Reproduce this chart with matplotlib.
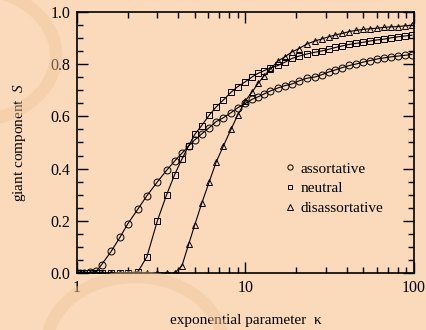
import matplotlib
matplotlib.use("Agg")
import matplotlib.pyplot as plt
from matplotlib.patches import Circle
from matplotlib.ticker import FixedLocator, NullFormatter, MultipleLocator

# exponential parameter kappa
kappa = [1.0, 1.04, 1.1, 1.2, 1.3, 1.4, 1.6, 1.8, 2.0, 2.3, 2.6, 3.0, 3.4, 3.8,
         4.2, 4.6, 5.0, 5.5, 6.1, 6.7, 7.4, 8.2, 9.0, 10.0, 11.0, 11.9, 12.9,
         14.0, 15.6, 17.2, 18.9, 20.8, 23.1, 25.9, 28.5, 31.2, 34.2, 37.6,
         41.4, 45.6, 50.1, 55.1, 60.6, 66.5, 73.1, 80.4, 88.4, 97.3]

# giant component S
assortative = [0.0, 0.0, 0.001, 0.002, 0.006, 0.032, 0.084, 0.137, 0.188, 0.245,
               0.296, 0.349, 0.393, 0.429, 0.459, 0.487, 0.510, 0.533, 0.557,
               0.580, 0.595, 0.614, 0.633, 0.650, 0.666, 0.675, 0.686, 0.697,
               0.709, 0.718, 0.724, 0.736, 0.746, 0.751, 0.760, 0.770, 0.778,
               0.787, 0.795, 0.801, 0.808, 0.814, 0.820, 0.824, 0.828, 0.831,
               0.834, 0.837]
neutral = [0.0, 0.0, 0.0, 0.0, 0.0, 0.0, 0.0, 0.0, 0.0, 0.005, 0.062, 0.200,
           0.299, 0.377, 0.437, 0.487, 0.531, 0.565, 0.605, 0.636, 0.663, 0.692,
           0.714, 0.733, 0.752, 0.765, 0.775, 0.785, 0.795, 0.808, 0.822, 0.831,
           0.839, 0.846, 0.851, 0.857, 0.864, 0.870, 0.876, 0.880, 0.884, 0.889,
           0.893, 0.896, 0.901, 0.905, 0.908, 0.911]
disassortative = [0.0, 0.0, 0.0, 0.0, 0.0, 0.0, 0.0, 0.0, 0.0, 0.0, 0.0, 0.0,
                  0.0, 0.0, 0.028, 0.110, 0.184, 0.267, 0.350, 0.425, 0.487,
                  0.550, 0.605, 0.660, 0.695, 0.727, 0.755, 0.780, 0.812, 0.829,
                  0.847, 0.860, 0.877, 0.889, 0.897, 0.905, 0.912, 0.918, 0.925,
                  0.930, 0.933, 0.936, 0.938, 0.941, 0.943, 0.944, 0.947, 0.949]

labels = ["assortative", "neutral", "disassortative"]
markers = ["o", "s", "^"]

plt.rcParams["font.family"] = ["Liberation Serif", "DejaVu Serif"]
plt.rcParams["mathtext.fontset"] = "custom"
plt.rcParams["mathtext.it"] = "Liberation Serif:italic"
plt.rcParams["mathtext.rm"] = "Liberation Serif"

bg = "#fadabb"
fig = plt.figure(figsize=(4.27, 3.30), dpi=100, facecolor=bg)

# coffee stain rings behind everything
for cx, cy, r in [(-30, 55, 86), (135, 345, 88)]:
    fig.patches.append(Circle((cx / 427, 1 - cy / 330), r / 427, transform=fig.transFigure,
                              fill=False, lw=9, ec="#efc59c", alpha=0.45, zorder=0))

ax = fig.add_axes([0.1803, 0.1727, 0.789, 0.791])
ax.patch.set_alpha(0)

for ys, m, lab in zip([assortative, neutral, disassortative], markers, labels):
    ax.plot(kappa, ys, "-", color="black", lw=0.8, zorder=2)
    ax.plot(kappa, ys, ls="none", marker=m, ms=5 if m != "s" else 4.5,
            mfc="none", mec="black", mew=0.7, label=lab, zorder=3)

ax.set_xscale("log")
ax.set_xlim(1, 100)
ax.set_ylim(0, 1)
ax.xaxis.set_major_locator(FixedLocator([1, 10, 100]))
ax.set_xticklabels(["1", "10", "100"])
ax.xaxis.set_minor_locator(FixedLocator([2, 3, 4, 5, 6, 7, 8, 9,
                                         20, 30, 40, 50, 60, 70, 80, 90]))
ax.xaxis.set_minor_formatter(NullFormatter())
ax.yaxis.set_major_locator(MultipleLocator(0.2))
ax.yaxis.set_minor_locator(MultipleLocator(0.05))
ax.set_yticklabels(["%.1f" % v for v in ax.get_yticks()])

ax.tick_params(which="both", direction="in", top=True, right=True,
               labelsize=11.5, width=1.0)
ax.tick_params(which="major", length=8, pad=5)
ax.tick_params(which="minor", length=4)
for s in ax.spines.values():
    s.set_linewidth(1.2)

ax.set_xlabel("exponential parameter  κ", fontsize=11, labelpad=13)
ax.set_ylabel("giant component  $S$", fontsize=11, labelpad=16)

leg = ax.legend(loc="upper left", bbox_to_anchor=(0.595, 0.455), frameon=False,
                fontsize=11, handlelength=0.6, handletextpad=0.4,
                labelspacing=0.4, borderpad=0, markerscale=0.75)

fig.savefig("out.png", dpi=100, facecolor=bg)
